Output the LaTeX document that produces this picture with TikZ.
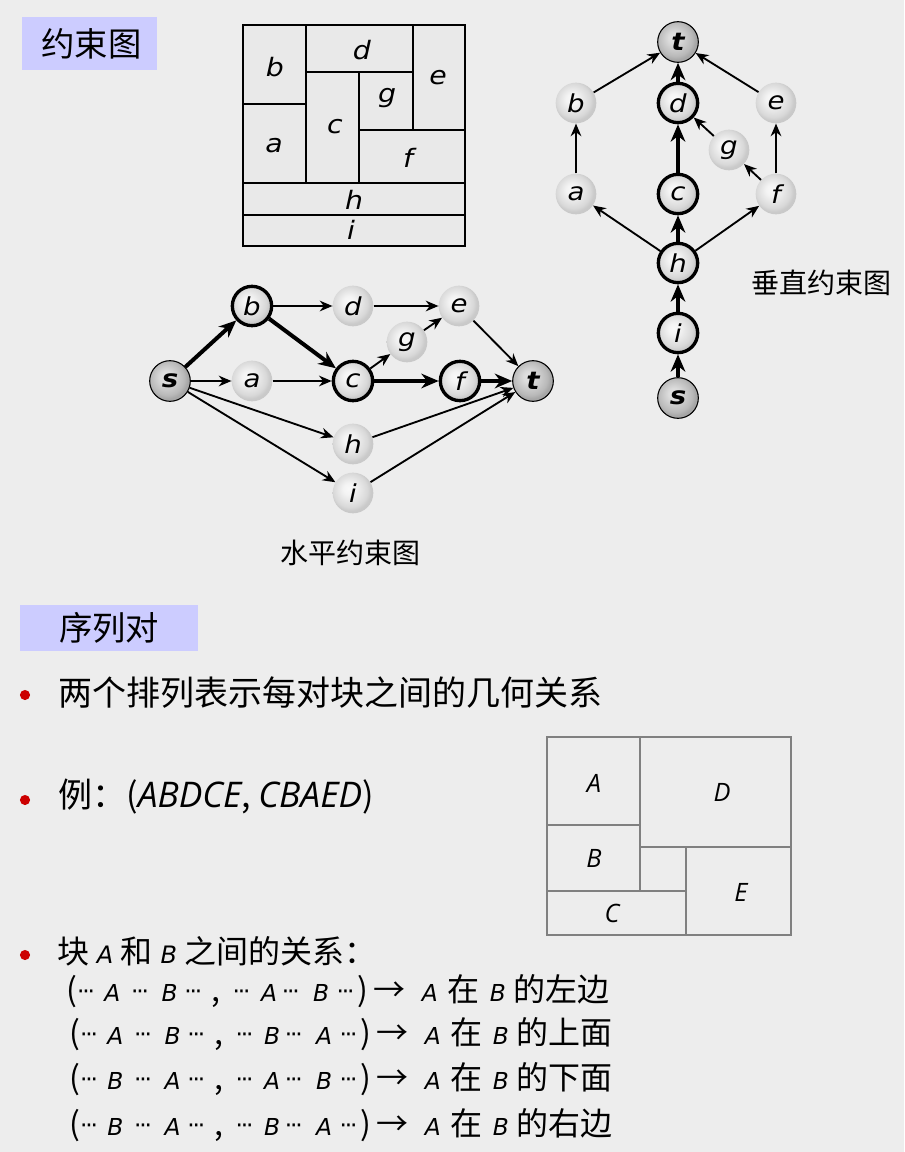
\documentclass[tikz,border=0pt]{standalone}
\usepackage{fontspec}
\setmainfont{Noto Sans CJK SC}
\newfontfamily\latfont{DejaVu Sans}[FakeStretch=1.12,ItalicFont={DejaVu Sans Oblique},BoldItalicFont={DejaVu Sans Bold Oblique}]
\newfontfamily\relfont{DejaVu Sans}[ItalicFont={DejaVu Sans Oblique}]
\newfontfamily\seqfont{Open Sans}
\usetikzlibrary{arrows.meta}
\definecolor{bgcol}{RGB}{237,237,237}
\definecolor{titlecol}{RGB}{204,204,255}
\definecolor{blockcol}{RGB}{233,233,233}
\definecolor{dotcol}{RGB}{204,0,0}
\pgfdeclareradialshading{softball}{\pgfpoint{-6bp}{6bp}}{color(0bp)=(gray!5); color(7bp)=(gray!9); color(21bp)=(gray!30); color(25bp)=(gray!42); color(50bp)=(gray!42)}
\pgfdeclareradialshading{darkball}{\pgfpoint{-6bp}{6bp}}{color(0bp)=(gray!22); color(7bp)=(gray!28); color(21bp)=(gray!55); color(25bp)=(gray!70); color(50bp)=(gray!70)}
\newcommand{\setfs}[1]{\fontsize{#1}{#1}\selectfont}
\newcommand{\sv}[1]{{\seqfont\itshape #1}}
% pieces of one relation line (the line itself is set in the Latin font)
\newcommand{\cj}[1]{{\setfs{24pt}\normalfont #1}}
\newcommand{\dd}{{\upshape\raisebox{1.5pt}{·\hspace{-1.6pt}·\hspace{-1.6pt}·}}}
\newcommand{\rel}[5]{\cj{(}\dd\hspace{7pt}#1\hspace{8pt}\dd\hspace{9.5pt}#2\hspace{5pt}\dd\hspace{6.5pt}\cj{,}\hspace{9.5pt}\dd\hspace{8pt}#3\hspace{3.5pt}\dd\hspace{10pt}#4\hspace{5.5pt}\dd\hspace{2pt}\cj{)}\hspace{4.5pt}\cj{→}\hspace{12pt}A\hspace{7pt}\cj{在}\hspace{8pt}B\hspace{6pt}\cj{的#5}}

\begin{document}
\begin{tikzpicture}[x=0.75pt, y=-0.75pt,
  nd/.style={circle, minimum size=30.5pt, inner sep=0pt, shade, shading=softball,
             font=\setfs{18.5pt}\latfont\itshape},
  crit/.style={nd, draw=black, line width=2.5pt, minimum size=29.5pt},
  term/.style={nd, shading=darkball, draw=black, line width=0.8pt,
               font=\setfs{18.5pt}\latfont\bfseries\itshape},
  arr/.style={-{Stealth[length=9.5pt,width=8pt]}, line width=1.4pt},
  thk/.style={-{Stealth[length=13pt,width=11pt]}, line width=3pt},
  blk/.style={draw=black, line width=1.5pt, fill=blockcol},
  blk2/.style={draw=gray, line width=0.8pt},
  lbl/.style={font=\setfs{19pt}\latfont\itshape, inner sep=0pt},
  lbl2/.style={font=\setfs{19pt}\seqfont\itshape, inner sep=0pt},
  title/.style={fill=titlecol, inner sep=0pt, font=\setfs{25pt}},
  txt/.style={anchor=west, inner sep=0pt, font=\setfs{24pt}},
  rtxt/.style={anchor=west, inner sep=0pt, font=\setfs{17.5pt}\relfont\itshape}]
  \fill[bgcol] (0,0) rectangle (904,1152);
  \useasboundingbox (0,0) rectangle (904,1152);

  % section titles
  \node[title, minimum width=101.25pt, minimum height=39.75pt] (t1) at (89.5,43.5) {\hspace{3pt}约束图};
  \node[title, minimum width=133.5pt, minimum height=34.5pt] (t2) at (109,628) {序列对};

  % floorplan
  \draw[blk] (243,25) rectangle (306,104);
  \draw[blk] (243,104) rectangle (306,183);
  \draw[blk] (306,25) rectangle (413,72);
  \draw[blk] (413,25) rectangle (465,130);
  \draw[blk] (306,72) rectangle (359,183);
  \draw[blk] (359,72) rectangle (413,130);
  \draw[blk] (359,130) rectangle (465,183);
  \draw[blk] (243,183) rectangle (465,215);
  \draw[blk] (243,215) rectangle (465,246);
  \node[lbl] (fb) at (275,67) {b};
  \node[lbl] (fa) at (274,146) {a};
  \node[lbl] (fd) at (362,50) {d};
  \node[lbl] (fe) at (438,78) {e};
  \node[lbl] (fg) at (387,98) {g};
  \node[lbl] (fc) at (335,127) {c};
  \node[lbl] (ff) at (408,158) {f};
  \node[lbl] (fh) at (354,200) {h};
  \node[lbl] (fi) at (351,230) {i};

  % horizontal constraint graph
  \node[term] (hs) at (170,381) {s};
  \node[crit] (hb) at (252,306) {b};
  \node[nd]   (ha) at (252,381) {a};
  \node[nd]   (hd) at (353,306) {d};
  \node[crit] (hc) at (353,381) {c};
  \node[nd]   (hh) at (353,444) {h};
  \node[nd]   (hi) at (353,493) {i};
  \node[nd]   (hg) at (407,342) {g};
  \node[nd]   (he) at (459,306) {e};
  \node[crit] (hf) at (460,381) {f};
  \node[term] (ht) at (533,381) {t};
  \draw[thk] (hs) -- (hb);
  \draw[arr] (hs) -- (ha);
  \draw[arr] (hs) -- (hh);
  \draw[arr] (hs) -- (hi);
  \draw[arr] (hb) -- (hd);
  \draw[thk] (hb) -- (hc);
  \draw[arr] (ha) -- (hc);
  \draw[arr] (hd) -- (he);
  \draw[arr] (hc) -- (hg);
  \draw[arr] (hg) -- (he);
  \draw[thk] (hc) -- (hf);
  \draw[thk] (hf) -- (ht);
  \draw[arr] (he) -- (ht);
  \draw[arr] (hh) -- (ht);
  \draw[arr] (hi) -- (ht);
  \node[font=\setfs{21pt}] (hcap) at (350,553) {水平约束图};

  % vertical constraint graph
  \node[term] (vt) at (678,42) {t};
  \node[nd]   (vb) at (576,103) {b};
  \node[crit] (vd) at (678,103) {d};
  \node[nd]   (ve) at (776,103) {e};
  \node[nd]   (vg) at (729,150) {g};
  \node[nd]   (va) at (576,194) {a};
  \node[crit] (vc) at (678,194) {c};
  \node[nd]   (vf) at (776,194) {f};
  \node[crit] (vh) at (678,263) {h};
  \node[crit] (vi) at (678,333) {i};
  \node[term] (vs) at (678,398) {s};
  \draw[arr] (vb) -- (vt);
  \draw[thk] (vd) -- (vt);
  \draw[arr] (ve) -- (vt);
  \draw[arr] (va) -- (vb);
  \draw[thk] (vc) -- (vd);
  \draw[arr] (vg) -- (vd);
  \draw[arr] (vf) -- (vg);
  \draw[arr] (vf) -- (ve);
  \draw[arr] (vh) -- (va);
  \draw[thk] (vh) -- (vc);
  \draw[arr] (vh) -- (vf);
  \draw[thk] (vi) -- (vh);
  \draw[thk] (vs) -- (vi);
  \node[font=\setfs{21pt}] (vcap) at (821,283) {垂直约束图};

  % sequence pair
  \fill[dotcol] (25,695) circle[radius=3.8pt];
  \fill[dotcol] (25,800) circle[radius=3.8pt];
  \fill[dotcol] (25,955) circle[radius=3.8pt];
  \node[txt, font=\setfs{25.5pt}] (p1) at (58,693) {两个排列表示每对块之间的几何关系};
  \node[txt, font=\setfs{25.5pt}] (p2) at (58,797) {例：(\sv{\setfs{26.5pt}ABDCE}, \sv{\setfs{26.5pt}CBAED})};
  \node[rtxt, font=\setfs{18pt}\relfont\itshape] (p3) at (57,951) {\cj{块} A \cj{和} B \cj{之间的关系：}};
  \node[rtxt] (r1) at (66,991) {\rel{A}{B}{A}{B}{左边}};
  \node[rtxt] (r2) at (69,1034) {\rel{A}{B}{B}{A}{上面}};
  \node[rtxt] (r3) at (69,1079) {\rel{B}{A}{A}{B}{下面}};
  \node[rtxt] (r4) at (69,1125) {\rel{B}{A}{B}{A}{右边}};

  % example floorplan
  \draw[blk2] (547,737) rectangle (640,825);
  \draw[blk2] (547,825) rectangle (640,891);
  \draw[blk2] (640,737) rectangle (791,847);
  \draw[blk2] (686,847) rectangle (791,935);
  \draw[blk2] (547,891) rectangle (686,935);
  \draw[blk2] (640,847) rectangle (686,891);
  \node[lbl2] (eA) at (594,783) {A};
  \node[lbl2] (eD) at (722,792) {D};
  \node[lbl2] (eB) at (594,858) {B};
  \node[lbl2] (eC) at (612,913) {C};
  \node[lbl2] (eE) at (741,892) {E};
\end{tikzpicture}
\end{document}
